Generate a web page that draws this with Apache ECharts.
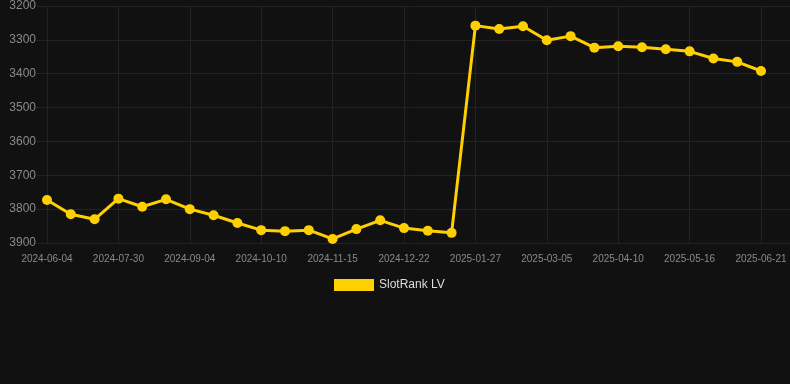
<!DOCTYPE html>
<html>
<head>
<meta charset="utf-8">
<script src="https://cdn.jsdelivr.net/npm/echarts@6/dist/echarts.min.js"></script>
<style>
html,body{margin:0;padding:0;background:#111111;}
#chart{width:790px;height:384px;}
</style>
</head>
<body>
<div id="chart"></div>
<script>
const dates = [
  "2024-06-04","2024-06-22","2024-07-11","2024-07-30","2024-08-11","2024-08-23",
  "2024-09-04","2024-09-16","2024-09-28","2024-10-10","2024-10-22","2024-11-03",
  "2024-11-15","2024-11-27","2024-12-10","2024-12-22","2025-01-03","2025-01-15",
  "2025-01-27","2025-02-08","2025-02-21","2025-03-05","2025-03-17","2025-03-29",
  "2025-04-10","2025-04-22","2025-05-04","2025-05-16","2025-05-28","2025-06-09",
  "2025-06-21"
];
const rankLV = [
  3773, 3815, 3830, 3769, 3793, 3771, 3800, 3818, 3841, 3862, 3865, 3862,
  3888, 3859, 3833, 3856, 3864, 3870, 3258, 3268, 3260, 3301, 3289, 3323,
  3319, 3322, 3328, 3334, 3355, 3365, 3392
];
const labelIndices = [0, 3, 6, 9, 12, 15, 18, 21, 24, 27, 30];
const yTicks = [3200, 3300, 3400, 3500, 3600, 3700, 3800, 3900];
const seriesName = "SlotRank LV";

const chart = echarts.init(document.getElementById('chart'), null, {renderer: 'canvas'});
const gridLeft = 37, gridRight = 0;
// first point at x=47, last at x=761
const step = (761 - 47) / (dates.length - 1);
const xMin = -(47 - gridLeft) / step;
const xMax = (dates.length - 1) + (790 - gridRight - 761) / step;

chart.setOption({
  backgroundColor: '#111111',
  animation: false,
  grid: { left: gridLeft, right: gridRight, top: 6, bottom: 141, containLabel: false },
  legend: {
    data: [seriesName],
    top: 274,
    left: 329,
    itemWidth: 40,
    itemHeight: 12,
    icon: 'rect',
    textStyle: { color: '#dddddd', fontSize: 12, fontFamily: 'Liberation Sans, Arial, sans-serif' }
  },
  xAxis: {
    type: 'value',
    min: xMin,
    max: xMax,
    axisLine: { show: false },
    axisTick: { show: false, customValues: labelIndices },
    splitLine: { show: true, lineStyle: { color: '#232323', width: 1 } },
    axisLabel: {
      customValues: labelIndices,
      color: '#8a8a8a',
      fontSize: 10,
      margin: 11,
      fontFamily: 'Liberation Sans, Arial, sans-serif',
      formatter: v => dates[Math.round(v)] || ''
    }
  },
  yAxis: {
    type: 'value',
    inverse: true,
    min: yTicks[0],
    max: yTicks[yTicks.length - 1],
    interval: 100,
    axisLine: { show: false },
    axisTick: { show: false },
    splitLine: { show: true, lineStyle: { color: '#232323', width: 1 } },
    axisLabel: {
      color: '#8a8a8a',
      fontSize: 12,
      margin: 1,
      fontFamily: 'Liberation Sans, Arial, sans-serif',
      formatter: v => String(v)
    }
  },
  series: [{
    name: seriesName,
    type: 'line',
    data: rankLV.map((v, i) => [i, v]),
    symbol: 'circle',
    symbolSize: 10,
    itemStyle: { color: '#FFD000' },
    lineStyle: { color: '#FFD000', width: 3 },
    z: 3
  }]
});
</script>
</body>
</html>
